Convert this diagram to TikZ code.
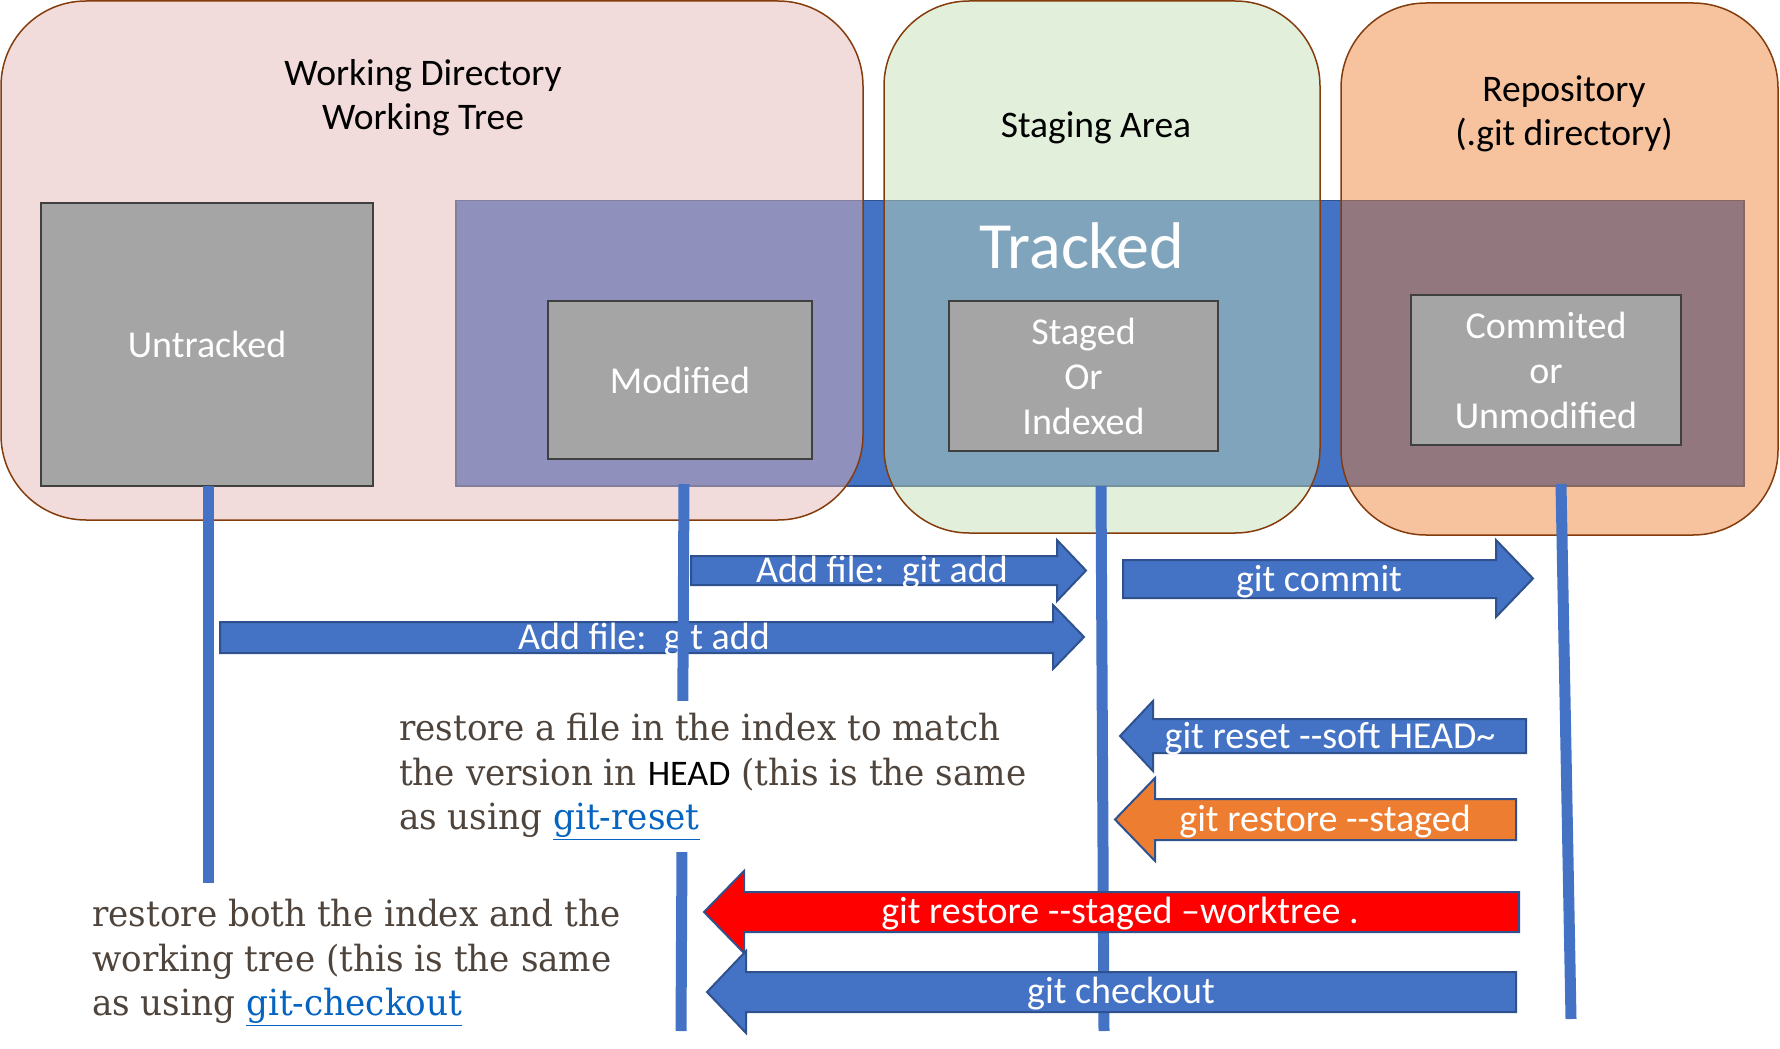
\documentclass[tikz,border=0pt]{standalone}
\usepackage{fontspec}
\newfontfamily\cf{Carlito}
\newfontfamily\slabf{DejaVu Serif}[FakeStretch=0.95]
\definecolor{blueA}{HTML}{4472C4}
\definecolor{navy}{HTML}{2F528F}
\definecolor{grayfill}{HTML}{A5A5A5}
\definecolor{grayline}{HTML}{404040}
\definecolor{brownline}{HTML}{843C0C}
\definecolor{pinkC}{RGB}{228,179,179}
\definecolor{greenC}{RGB}{194,221,177}
\definecolor{orangeC}{HTML}{ED7D31}
\definecolor{redC}{HTML}{FF0000}
\definecolor{bodytext}{HTML}{4E443C}
\definecolor{linkblue}{HTML}{0563C1}
\begin{document}
\begin{tikzpicture}[x=1pt,y=-1pt,
  area/.style={draw=brownline, line width=1.5pt, fill opacity=0.47, rounded corners=85pt, inner sep=0},
  trk/.style={draw=navy, fill=blueA, line width=1.5pt, inner sep=0},
  head/.style={font=\cf\fontsize{37.5}{44.5}\selectfont, align=center, inner sep=0, text=black},
  gbox/.style={draw=grayline, fill=grayfill, line width=2.5pt, text=white, font=\cf\fontsize{38}{45}\selectfont, align=center, inner sep=0},
  vline/.style={draw=blueA, line width=11pt},
  barrow/.style={draw=navy, line width=2pt, line join=miter},
  arrtext/.style={text=white, font=\cf\fontsize{38}{43}\selectfont, inner sep=0, anchor=base},
  serif/.style={font=\slabf\fontsize{36}{44.5}\selectfont, text=bodytext, align=left}]
\useasboundingbox (0,0) rectangle (1780,1049);

% tracked band
\node[trk, minimum width=1288pt, minimum height=285.5pt] (tracked) at (1100,343.25) {};

% containers
\node[area, fill=pinkC, minimum width=862pt, minimum height=519pt] (wd) at (432,260.5) {};
\node[area, fill=greenC, minimum width=436pt, minimum height=532pt] (staging) at (1102,267) {};
\node[area, fill=orangeC, minimum width=437pt, minimum height=532pt] (repo) at (1559.5,269) {};

% headings
\node[head] (wdlabel) at (423,97.5) {Working Directory\\Working Tree};
\node[head, anchor=base] (salabel) at (1096,137) {Staging Area};
\node[head] (repolabel) at (1564,114) {Repository\\(.git directory)};
\node[text=white, font=\cf\fontsize{66}{72}\selectfont, anchor=base, inner sep=0] (trlabel) at (1082,268) {Tracked};

% state boxes
\node[gbox, minimum width=332pt, minimum height=283pt] (untracked) at (207,344.5) {Untracked};
\node[gbox, minimum width=264pt, minimum height=158pt] (modified) at (680,380) {Modified};
\node[gbox, minimum width=269pt, minimum height=150pt] (staged) at (1083.5,376) {Staged\\Or\\Indexed};
\node[gbox, minimum width=270pt, minimum height=150pt] (commited) at (1546,370) {Commited\\or\\Unmodified};

% lifelines
\coordinate (uTop) at (208,486);
\coordinate (uEnd) at (208,883);
\coordinate (mTop) at (684,484);
\coordinate (mEnd) at (681,1031);
\coordinate (sTop) at (1101,486);
\coordinate (sEnd) at (1104,1031);
\coordinate (cTop) at (1561,484);
\coordinate (cEnd) at (1571,1019);
\draw[vline] (sTop) -- (sEnd);
\draw[vline] (cTop) -- (cEnd);
\draw[vline] (uTop) -- (uEnd);

% block arrows
\draw[barrow, fill=blueA] (691,556) -- (1057,556) -- (1057,540) -- (1086,570.5) -- (1057,601) -- (1057,585) -- (691,585) -- cycle;
\node[arrtext] (addA) at (882,582) {Add file:\ \ git add};
\draw[barrow, fill=blueA] (220,622) -- (1053,622) -- (1053,605) -- (1084,637) -- (1053,669) -- (1053,653) -- (220,653) -- cycle;
\node[arrtext] (addB) at (644,649) {Add file:\ \ git add};
\draw[barrow, fill=blueA] (1123,560) -- (1496,560) -- (1496,540) -- (1533,578.5) -- (1496,617) -- (1496,598) -- (1123,598) -- cycle;
\node[arrtext] (commit) at (1319,591) {git commit};
\draw[barrow, fill=blueA] (1526,719) -- (1153,719) -- (1153,701) -- (1120,736) -- (1153,771) -- (1153,753) -- (1526,753) -- cycle;
\node[arrtext] (reset) at (1330,748) {git reset --soft HEAD\textasciitilde};
\draw[barrow, fill=orangeC] (1516,799) -- (1155,799) -- (1155,778) -- (1115,819.5) -- (1155,861) -- (1155,840) -- (1516,840) -- cycle;
\node[arrtext] (restoreS) at (1325,831) {git restore --staged};
\draw[barrow, fill=redC] (1519,892) -- (744,892) -- (744,871) -- (704,912) -- (744,953) -- (744,932) -- (1519,932) -- cycle;
\node[arrtext] (restoreW) at (1120,923) {git restore --staged –worktree .};
\draw[barrow, fill=blueA] (1516,972) -- (746,972) -- (746,951) -- (707,992) -- (746,1033) -- (746,1012) -- (1516,1012) -- cycle;
\node[arrtext] (checkout) at (1121,1003) {git checkout};

\draw[vline] (mTop) -- (mEnd);

% notes
\node[serif, fill=white, inner xsep=0pt, inner ysep=12pt, anchor=north west] (note1) at (399,701)
  {restore a file in the index to match\\the version in {\cf\color{black}HEAD} (this is the same\\as using \textcolor{linkblue}{\underline{git-reset}}};
\node[serif, inner sep=0pt, anchor=north west] (note2) at (92,899)
  {restore both the index and the\\working tree (this is the same\\as using \textcolor{linkblue}{\underline{git-checkout}}};
\end{tikzpicture}
\end{document}
